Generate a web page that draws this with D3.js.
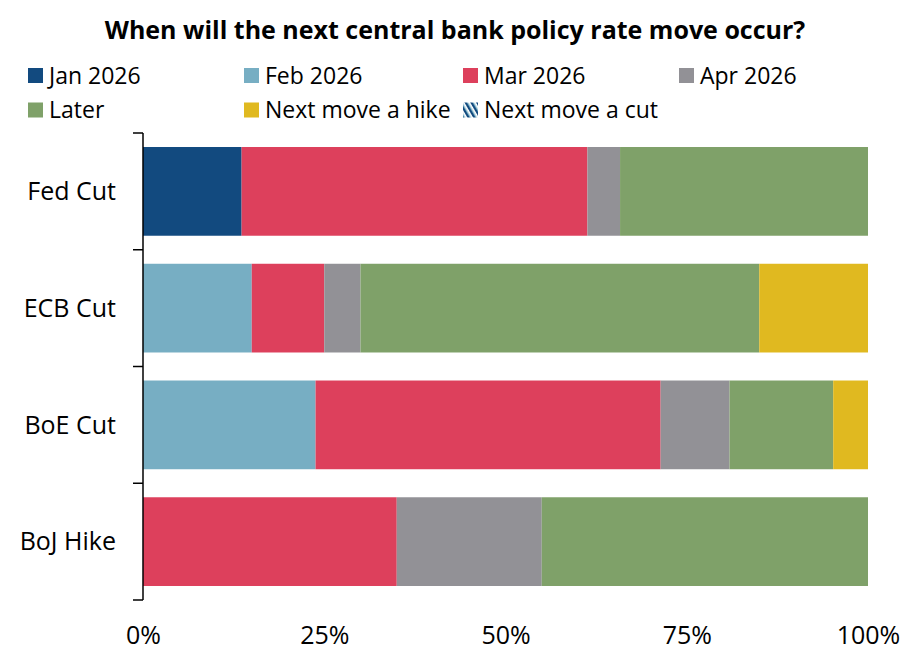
<!DOCTYPE html>
<html>
<head>
<meta charset="utf-8">
<script src="https://cdn.jsdelivr.net/npm/d3@7"></script>
<style>
  body { margin: 0; background: #fff; }
  svg text { font-family: "Open Sans", "Noto Sans", sans-serif; fill: #000; }
</style>
</head>
<body>
<div id="chart"></div>
<script>
// Categories and series (percent of respondents)
var categories = ["Fed Cut", "ECB Cut", "BoE Cut", "BoJ Hike"];
var seriesNames = ["Jan 2026", "Feb 2026", "Mar 2026", "Apr 2026", "Later", "Next move a hike", "Next move a cut"];
var jan2026 = [13.6, 0, 0, 0];
var feb2026 = [0, 15, 23.8, 0];
var mar2026 = [47.7, 10, 47.6, 35];
var apr2026 = [4.5, 5, 9.5, 20];
var later = [34.2, 55, 14.3, 45];
var nextHike = [0, 15, 4.8, 0];
var nextCut = [0, 0, 0, 0];
var xTicks = [0, 25, 50, 75, 100];

var colors = ["#124a7f", "#77aec3", "#dd405c", "#929196", "#7fa169", "#e0b920", "url(#hatch)"];

var width = 909, height = 659;
var margin = { top: 133, right: 41, bottom: 59, left: 143 };

var svg = d3.select("#chart")
    .append("svg")
    .attr("width", width)
    .attr("height", height);

// hatch pattern for "Next move a cut"
var defs = svg.append("defs");
var pat = defs.append("pattern")
    .attr("id", "hatch")
    .attr("patternUnits", "userSpaceOnUse")
    .attr("width", 5)
    .attr("height", 5)
    .attr("patternTransform", "rotate(-30)");
pat.append("rect").attr("width", 5).attr("height", 5).attr("fill", "#fff");
pat.append("rect").attr("width", 2).attr("height", 5).attr("fill", "#124a7f");
pat.append("rect").attr("x", 2).attr("width", 1.3).attr("height", 5).attr("fill", "#77aec3");

// title
svg.append("text")
    .attr("x", 455)
    .attr("y", 39)
    .attr("text-anchor", "middle")
    .style("font-weight", "bold")
    .style("font-size", "25px")
    .text("When will the next central bank policy rate move occur?");

// build table for stacking
var allSeries = [jan2026, feb2026, mar2026, apr2026, later, nextHike, nextCut];
var table = categories.map(function (c, i) {
    var row = { cat: c };
    seriesNames.forEach(function (s, j) { row[s] = allSeries[j][i]; });
    return row;
});
var stacked = d3.stack().keys(seriesNames)(table);

var x = d3.scaleLinear().domain([0, 100]).range([margin.left, width - margin.right]);
var y = d3.scaleBand()
    .domain(categories)
    .range([margin.top, height - margin.bottom])
    .paddingInner(0.24)
    .paddingOuter(0.12);

// bars
svg.append("g")
    .selectAll("g")
    .data(stacked)
    .enter()
    .append("g")
    .attr("fill", function (d, i) { return colors[i]; })
    .selectAll("rect")
    .data(function (d) { return d; })
    .enter()
    .append("rect")
    .attr("x", function (d) { return x(d[0]); })
    .attr("width", function (d) { return x(d[1]) - x(d[0]); })
    .attr("y", function (d) { return y(d.data.cat); })
    .attr("height", y.bandwidth());

// y axis line and boundary ticks
var yAx = svg.append("g");
yAx.append("line")
    .attr("x1", margin.left).attr("x2", margin.left)
    .attr("y1", margin.top).attr("y2", height - margin.bottom)
    .attr("stroke", "#000").attr("stroke-width", 1.5);
d3.range(categories.length + 1).forEach(function (i) {
    var yy = margin.top + i * y.step();
    yAx.append("line")
        .attr("x1", margin.left - 10).attr("x2", margin.left)
        .attr("y1", yy).attr("y2", yy)
        .attr("stroke", "#000").attr("stroke-width", 1.5);
});
yAx.selectAll("text.cat")
    .data(categories)
    .enter()
    .append("text")
    .attr("class", "cat")
    .attr("x", 116)
    .attr("y", function (d) { return y(d) + y.bandwidth() / 2; })
    .attr("dy", "0.35em")
    .attr("text-anchor", "end")
    .style("font-size", "25px")
    .text(function (d) { return d; });

// x axis (labels only)
var xAxis = svg.append("g")
    .attr("transform", "translate(0," + (height - margin.bottom + 18) + ")")
    .call(d3.axisBottom(x).tickValues(xTicks).tickSize(0).tickPadding(8)
        .tickFormat(function (d) { return d + "%"; }));
xAxis.select(".domain").remove();
xAxis.selectAll("text")
    .style("font-size", "25px")
    .style("font-family", "'Open Sans', 'Noto Sans', sans-serif")
    .attr("fill", "#000");

// legend
var legX = [28, 244, 463, 679];
var legY = [75.5, 110];
var legend = svg.append("g");
seriesNames.forEach(function (s, i) {
    var col = i < 4 ? i : i - 4;
    var row = i < 4 ? 0 : 1;
    var g = legend.append("g").attr("transform", "translate(" + legX[col] + "," + legY[row] + ")");
    g.append("rect")
        .attr("x", 0).attr("y", -7.5)
        .attr("width", 15).attr("height", 15)
        .attr("fill", colors[i]);
    g.append("text")
        .attr("x", 21)
        .attr("y", 0)
        .attr("dy", "0.35em")
        .style("font-size", "23px")
        .text(s);
});
</script>
</body>
</html>
